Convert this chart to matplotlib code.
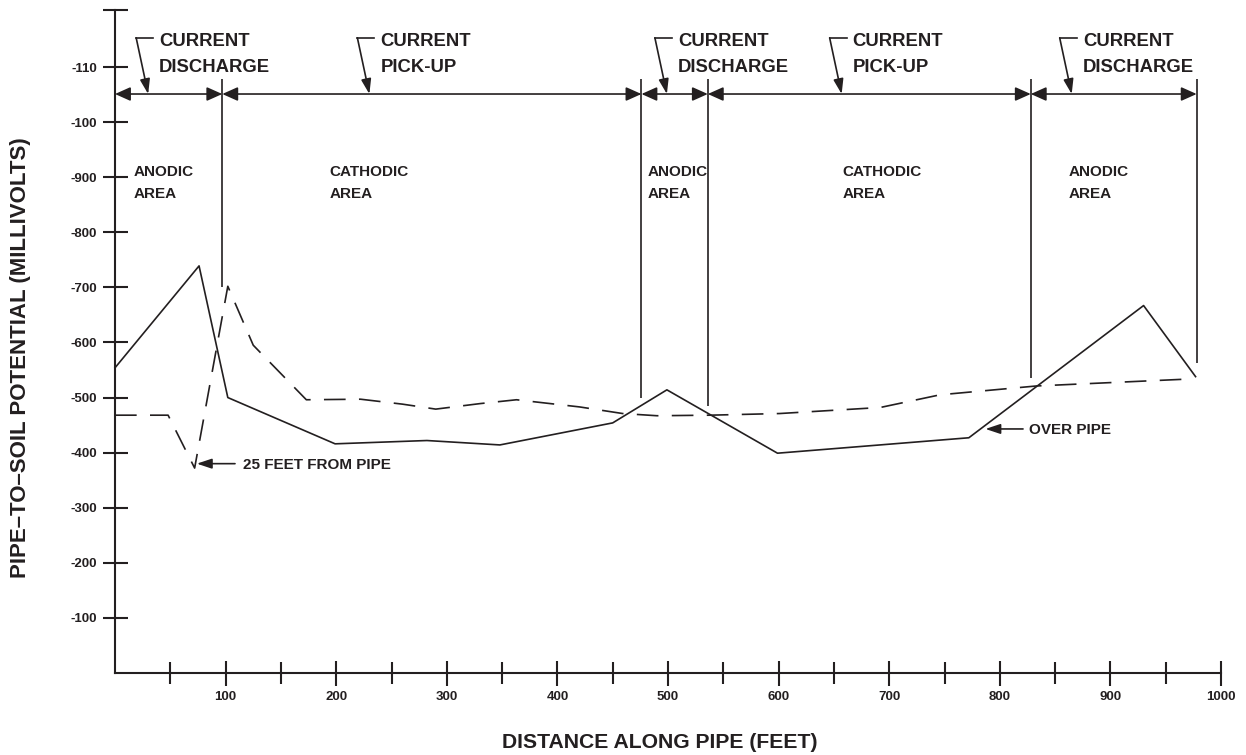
import matplotlib
matplotlib.use('Agg')
import matplotlib.pyplot as plt
from matplotlib.ticker import FixedLocator

plt.rcParams['font.family'] = ['Liberation Sans', 'DejaVu Sans']
plt.rcParams['font.weight'] = 'bold'

INK = '#231f20'

# ---- data ----
# solid line: over pipe
over_x = [0, 76, 102, 199, 282, 348, 450, 499, 599, 772, 930, 977]
over_mv = [554, 739, 500, 416, 422, 414, 454, 514, 399, 427, 667, 538]

# dashed line: 25 feet from pipe
side_x = [0, 48, 72, 102, 125, 173, 222, 260, 290, 330, 363, 420, 459, 490,
          538, 601, 692, 746, 833, 975]
side_mv = [468, 468, 372, 702, 595, 496, 497, 488, 479, 489, 496, 483, 471,
           467, 468, 471, 482, 505, 521, 534]

# zone boundaries and where each divider stops
bounds = [0, 97, 476, 536, 828, 978]
divider_x = [97, 476, 536, 828, 978]
divider_bottom = [701, 500, 485, 535, 562]

zone_top = ['CURRENT', 'CURRENT', 'CURRENT', 'CURRENT', 'CURRENT']
zone_sub = ['DISCHARGE', 'PICK-UP', 'DISCHARGE', 'PICK-UP', 'DISCHARGE']
leader_tip = [30, 230, 499, 657, 865]
area_top = ['ANODIC', 'CATHODIC', 'ANODIC', 'CATHODIC', 'ANODIC']
area_x = [17, 194, 482, 658, 862]

y_ticks = [100, 200, 300, 400, 500, 600, 700, 800, 900, 1000, 1100]
y_labels = ['-100', '-200', '-300', '-400', '-500', '-600', '-700', '-800',
            '-900', '-100', '-110']
x_ticks = [100, 200, 300, 400, 500, 600, 700, 800, 900, 1000]
x_minor = [50, 150, 250, 350, 450, 550, 650, 750, 850, 950]

#----------------------------------------------------------------------
fig = plt.figure(figsize=(12.46, 7.55), dpi=100)
ax = fig.add_axes([115/1246, 82/755, 1106/1246, 663/755])
ax.set_xlim(0, 1000)
y_top = 1203.5
ax.set_ylim(0, y_top)

for side in ['top', 'right']:
    ax.spines[side].set_visible(False)
for side in ['left', 'bottom']:
    ax.spines[side].set_linewidth(1.5)
    ax.spines[side].set_color(INK)

ax.yaxis.set_major_locator(FixedLocator(y_ticks + [y_top]))
ax.set_yticklabels(y_labels + [''])
ax.xaxis.set_major_locator(FixedLocator(x_ticks))
ax.xaxis.set_minor_locator(FixedLocator(x_minor))
ax.set_xticklabels([str(v) for v in x_ticks])

ax.tick_params(axis='y', which='major', direction='inout', length=18, width=1.5,
               color=INK, labelsize=9.5, labelcolor=INK, pad=4)
ax.tick_params(axis='x', which='major', direction='inout', length=18, width=1.5,
               color=INK, labelsize=9.5, labelcolor=INK, pad=4)
ax.tick_params(axis='x', which='minor', direction='inout', length=16, width=1.5,
               color=INK)
for lab in ax.get_xticklabels() + ax.get_yticklabels():
    lab.set_fontweight('bold')

# curves
ax.plot(over_x, over_mv, color=INK, lw=1.2, clip_on=False)
dashed, = ax.plot(side_x, side_mv, color=INK, lw=1.2, clip_on=False)
dashed.set_dashes([13, 8])

# zone dividers
ax.vlines(divider_x, divider_bottom, 1078, color=INK, lw=1.2)

# dimension line with arrows
dim_y = 1051
for b0, b1 in zip(bounds[:-1], bounds[1:]):
    ax.annotate('', xy=(b1, dim_y), xytext=(b0, dim_y),
                arrowprops=dict(arrowstyle='<|-|>,head_length=0.47,head_width=0.21',
                                mutation_scale=20, color=INK, lw=1.2,
                                shrinkA=0, shrinkB=0))

# leaders and zone titles
lead_y = 1153
for tip, t1, t2 in zip(leader_tip, zone_top, zone_sub):
    ax.plot([tip - 10.85, tip + 4.5], [lead_y, lead_y], color=INK, lw=1.2,
            clip_on=False)
    ax.annotate('', xy=(tip, dim_y), xytext=(tip - 10.85, lead_y),
                arrowprops=dict(arrowstyle='-|>,head_length=0.45,head_width=0.15',
                                mutation_scale=20, color=INK, lw=1.2,
                                shrinkA=0, shrinkB=0))
    ax.text(tip + 10, 1138.8, t1, fontsize=13.3, fontweight='bold', color=INK,
            ha='left', va='baseline')
    ax.text(tip + 10, 1090.4, t2, fontsize=13.3, fontweight='bold', color=INK,
            ha='left', va='baseline')

# area labels
for xa, t in zip(area_x, area_top):
    ax.text(xa, 902.2, t, fontsize=11, fontweight='bold', color=INK,
            ha='left', va='baseline')
    ax.text(xa, 862.2, 'AREA', fontsize=11, fontweight='bold', color=INK,
            ha='left', va='baseline')

# curve callouts
ax.annotate('', xy=(74, 380), xytext=(108.5, 380),
            arrowprops=dict(arrowstyle='-|>,head_length=0.45,head_width=0.15',
                            mutation_scale=20, color=INK, lw=1.2,
                            shrinkA=0, shrinkB=0))
ax.text(116, 371, '25 FEET FROM PIPE', fontsize=11, fontweight='bold',
        color=INK, ha='left', va='baseline')
ax.annotate('', xy=(787, 443), xytext=(821, 443),
            arrowprops=dict(arrowstyle='-|>,head_length=0.45,head_width=0.15',
                            mutation_scale=20, color=INK, lw=1.2,
                            shrinkA=0, shrinkB=0))
ax.text(826, 433, 'OVER PIPE', fontsize=11, fontweight='bold',
        color=INK, ha='left', va='baseline')

# axis titles
fig.text(660/1246, (755 - 748)/755, 'DISTANCE ALONG PIPE (FEET)', fontsize=15.2,
         fontweight='bold', color=INK, ha='center', va='baseline')
fig.text(21/1246, (755 - 358)/755, 'PIPE\u2013TO\u2013SOIL POTENTIAL (MILLIVOLTS)',
         fontsize=16, fontweight='bold', color=INK, ha='center', va='center',
         rotation=90)

plt.savefig('out.png', dpi=100)
